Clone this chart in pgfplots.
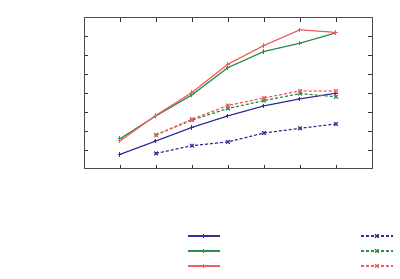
\documentclass[border=0pt]{standalone}
\usepackage{pgfplots}
\pgfplotsset{compat=1.18}
\definecolor{cblue}{RGB}{50,50,150}
\definecolor{cgreen}{RGB}{45,140,75}
\definecolor{cred}{RGB}{240,95,95}
\begin{document}
\begin{tikzpicture}
\path[use as bounding box] (0,0) rectangle (400pt,279pt);
\begin{axis}[
  at={(84pt,110.3pt)}, anchor=south west,
  scale only axis, width=288pt, height=151pt,
  xmin=0, xmax=8, ymin=0, ymax=8,
  xtick={1,...,7}, ytick={1,...,7},
  xticklabels={}, yticklabels={},
  tick align=inside, major tick length=4pt,
  axis line style={black!70, line width=0.8pt},
  every tick/.style={black!80, line width=0.6pt},
  legend columns=2,
  legend image code/.code={\draw[#1, mark repeat=2, mark phase=2] plot coordinates {(0pt,0pt) (16pt,0pt) (32pt,0pt)};},
  legend style={at={(0.3576,-0.396)}, anchor=north west, draw=none, fill=none,
    inner sep=0pt, outer sep=0pt, row sep=0pt,
    nodes={inner sep=0pt, outer sep=0pt, minimum height=15pt},
    /tikz/every odd column/.style={column sep=0pt},
    /tikz/every even column/.style={column sep=139pt}},
  every axis plot/.append style={line width=1.2pt, mark options={line width=1pt}},
]
\addplot[cblue, mark=+, mark size=2.2pt] coordinates {(1,0.76) (2,1.47) (3,2.19) (4,2.80) (5,3.33) (6,3.70) (7,4.00)};
\addlegendentry{}
\addplot[cblue, dash pattern=on 3pt off 2pt, mark=x, mark size=2.5pt, mark options={solid}] coordinates {(2,0.81) (3,1.22) (4,1.42) (5,1.89) (6,2.14) (7,2.37)};
\addlegendentry{}
\addplot[cgreen, mark=+, mark size=2.2pt] coordinates {(1,1.59) (2,2.80) (3,3.91) (4,5.36) (5,6.21) (6,6.65) (7,7.20)};
\addlegendentry{}
\addplot[cgreen, dash pattern=on 3pt off 2pt, mark=x, mark size=2.5pt, mark options={solid}] coordinates {(2,1.79) (3,2.58) (4,3.19) (5,3.61) (6,3.98) (7,3.81)};
\addlegendentry{}
\addplot[cred, mark=+, mark size=2.2pt] coordinates {(1,1.47) (2,2.83) (3,4.04) (4,5.54) (5,6.53) (6,7.36) (7,7.22)};
\addlegendentry{}
\addplot[cred, dash pattern=on 3pt off 2pt, mark=x, mark size=2.5pt, mark options={solid}] coordinates {(2,1.79) (3,2.62) (4,3.35) (5,3.75) (6,4.12) (7,4.12)};
\addlegendentry{}
\end{axis}
\end{tikzpicture}
\end{document}
